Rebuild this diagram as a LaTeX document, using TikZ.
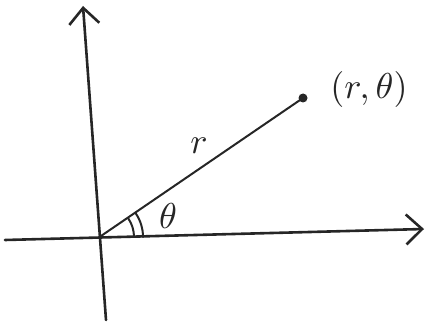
\documentclass[tikz,border=0pt]{standalone}
\usepackage{graphicx}
\usetikzlibrary{arrows.meta,calc}
\newcommand{\BigLbl}[1]{\scalebox{3.6}{#1}}
\begin{document}
\begin{tikzpicture}[x=1pt,y=-1pt,
  pen/.style={line width=2.6pt, line cap=round, line join=round, black!85},
  axis/.style={pen, -{Straight Barb[length=16pt,width=30pt,line width=2.6pt]}},
  lbl/.style={black!85, inner sep=0pt}]
\useasboundingbox (0,0) rectangle (427,328);
\coordinate (O) at (101,236);
\coordinate (yb) at (106,320);
\coordinate (yt) at (83,6);
\coordinate (xl) at (5,240);
\coordinate (xr) at (424,229);
\coordinate (P) at (303,98);
\draw[axis] (yb) -- (yt);
\draw[axis] (xl) -- (xr);
\draw[pen, line width=2pt] (O) -- (P);
\fill[black!85] (P) circle (4.5pt);
\draw[pen, line width=2pt] ($(O)+(33,1)$) arc[start angle=0, end angle=-34, radius=33];
\draw[pen, line width=2pt] ($(O)+(42,1)$) arc[start angle=0, end angle=-34, radius=42];
\node[lbl] (th) at (168,216) {\BigLbl{$\theta$}};
\node[lbl] (r) at (199,146) {\BigLbl{$r$}};
\node[lbl] (pl) at (369,90) {\BigLbl{$(r,\theta)$}};
\end{tikzpicture}
\end{document}
